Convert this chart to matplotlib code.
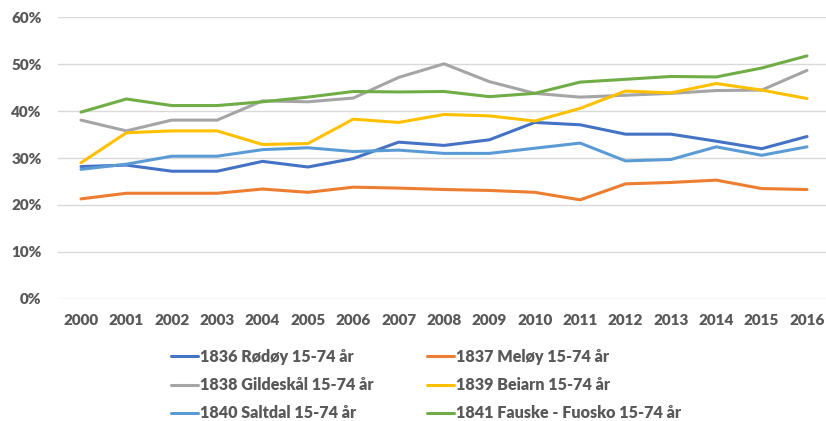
import numpy as np
import matplotlib
matplotlib.use("Agg")
import matplotlib.pyplot as plt

# Years on the x axis
years = ['2000', '2001', '2002', '2003', '2004', '2005', '2006', '2007', '2008',
         '2009', '2010', '2011', '2012', '2013', '2014', '2015', '2016']

# Share per municipality, 15-74 years
rodoy = [28.2, 28.5, 27.2, 27.2, 29.3, 28.1, 29.9, 33.4, 32.7, 33.9, 37.6, 37.1, 35.1, 35.1, 33.6, 32.0, 34.6]
meloy = [21.3, 22.5, 22.5, 22.5, 23.4, 22.7, 23.8, 23.6, 23.3, 23.1, 22.7, 21.1, 24.5, 24.8, 25.3, 23.5, 23.3]
gildeskal = [38.1, 35.8, 38.1, 38.1, 42.2, 42.0, 42.8, 47.2, 50.1, 46.3, 43.8, 43.0, 43.4, 43.8, 44.4, 44.5, 48.7]
beiarn = [29.0, 35.4, 35.8, 35.8, 32.9, 33.1, 38.3, 37.6, 39.3, 39.0, 37.9, 40.6, 44.3, 43.9, 45.9, 44.5, 42.7]
saltdal = [27.6, 28.7, 30.4, 30.4, 31.8, 32.2, 31.4, 31.7, 31.0, 31.0, 32.1, 33.2, 29.4, 29.7, 32.4, 30.6, 32.4]
fauske = [39.8, 42.6, 41.2, 41.2, 42.0, 43.0, 44.2, 44.1, 44.2, 43.1, 43.8, 46.2, 46.8, 47.4, 47.3, 49.2, 51.8]

series = [
    ('1836 Rødøy 15-74 år', rodoy, '#4472C4'),
    ('1837 Meløy 15-74 år', meloy, '#ED7D31'),
    ('1838 Gildeskål 15-74 år', gildeskal, '#A5A5A5'),
    ('1839 Beiarn 15-74 år', beiarn, '#FFC000'),
    ('1840 Saltdal 15-74 år', saltdal, '#5B9BD5'),
    ('1841 Fauske - Fuosko 15-74 år', fauske, '#70AD47'),
]

plt.rcParams['font.family'] = ['Lato', 'DejaVu Sans']
text_col = '#595959'

fig = plt.figure(figsize=(8.26, 4.21), dpi=100)
ax = fig.add_axes([58.3 / 826, 0.2903, (829.7 - 58.3) / 826, 0.9587 - 0.2903])

x = np.arange(len(years))
handles = []
for name, vals, col in series:
    ln, = ax.plot(x, np.array(vals) / 100, color=col, lw=2.2, label=name,
                  solid_capstyle='round', solid_joinstyle='round')
    handles.append(ln)

ax.set_xlim(-0.5, len(years) - 0.5)
ax.set_ylim(0, 0.6)
ax.set_yticks(np.arange(0, 0.61, 0.1))
ax.set_yticklabels([f'{int(round(v * 100))}%' for v in np.arange(0, 0.61, 0.1)])
ax.set_xticks(x)
ax.set_xticklabels(years)

# Excel look: light gridlines, no spines, no tick marks
ax.grid(axis='y', color='#D9D9D9', lw=1)
ax.set_axisbelow(True)
for s in ax.spines.values():
    s.set_visible(False)
ax.tick_params(axis='both', length=0, labelsize=11, labelcolor=text_col)
ax.tick_params(axis='y', pad=12)
ax.tick_params(axis='x', pad=11)
for lab in ax.get_xticklabels() + ax.get_yticklabels():
    lab.set_fontweight('heavy')

# legend row-wise in 2 columns -> reorder for matplotlib's column fill
order = [0, 2, 4, 1, 3, 5]
leg = fig.legend([handles[i] for i in order], [series[i][0] for i in order],
                 ncol=2, loc='upper left', bbox_to_anchor=(171 / 826, 0.171),
                 frameon=False, handlelength=1.7, handletextpad=0.1,
                 columnspacing=3.3, labelspacing=0.76, borderpad=0, borderaxespad=0,
                 prop={'size': 11.6, 'weight': 'heavy'})
for t in leg.get_texts():
    t.set_color(text_col)

fig.savefig('out.png', dpi=100)
